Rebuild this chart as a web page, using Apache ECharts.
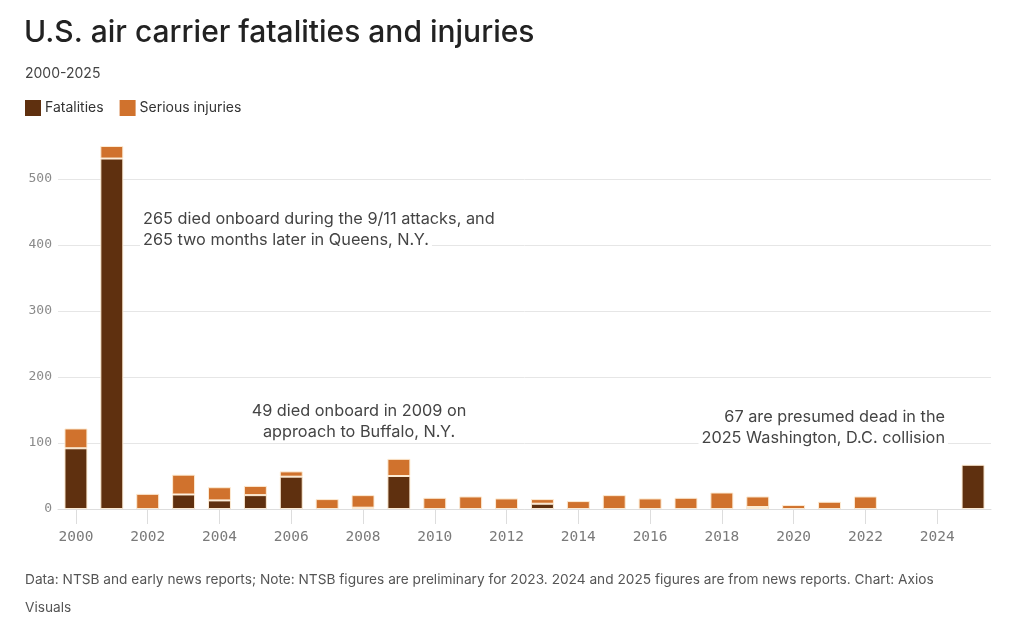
<!DOCTYPE html>
<html><head><meta charset="utf-8">
<script src="https://cdn.jsdelivr.net/npm/echarts@6/dist/echarts.min.js"></script>
<style>html,body{margin:0;padding:0;background:#fff}#c{width:1024px;height:635px}</style>
</head><body><div id="c"></div>
<script>
const years = ['2000','2001','2002','2003','2004','2005','2006','2007','2008','2009','2010','2011','2012','2013','2014','2015','2016','2017','2018','2019','2020','2021','2022','2023','2024','2025'];
const fatalities = [92, 531, 0, 22, 13, 21, 49, 0, 2, 50, 0, 0, 0, 8, 0, 0, 0, 0, 0, 3, 0, 0, 0, 0, 0, 67];
const seriousInjuries = [30, 19, 23, 30, 20, 14, 8, 15, 19, 26, 17, 19, 16, 7, 12, 21, 16, 17, 25, 16, 6, 11, 19, 0, 0, 0];
const yTicks = [0, 100, 200, 300, 400, 500];

const FONT = 'Inter, "Noto Sans", sans-serif';
const MONO = '"DejaVu Sans Mono", monospace';
const toData = arr => arr.map(v => v === 0 ? null : v);

function note(x, y, text, align) {
  return {type: 'text', z: 100, x: x, y: y,
    style: {text: text, textAlign: align, font: '16.3px ' + FONT, fill: '#444',
            backgroundColor: '#fff', padding: [2, 3]}};
}

const chart = echarts.init(document.getElementById('c'), null, {renderer: 'canvas'});
chart.setOption({
  backgroundColor: '#ffffff',
  animation: false,
  title: [
    {text: 'U.S. air carrier fatalities and injuries', left: 24, top: 18, padding: 0,
     textStyle: {fontFamily: FONT, fontSize: 30, fontWeight: 500, color: '#222'}},
    {text: '2000-2025', left: 25, top: 67, padding: 0,
     textStyle: {fontFamily: FONT, fontSize: 14, fontWeight: 'normal', color: '#444'}}
  ],
  legend: {
    left: 25, top: 100, padding: 0, icon: 'rect', itemWidth: 16, itemHeight: 16, itemGap: 16,
    itemStyle: {borderWidth: 0},
    textStyle: {fontFamily: FONT, fontSize: 14, color: '#333', padding: [0, 0, 0, -1]},
    data: ['Fatalities', 'Serious injuries']
  },
  grid: {left: 58, right: 33, top: 179, bottom: 126},
  xAxis: {
    type: 'category', data: years, boundaryGap: true,
    axisLine: {lineStyle: {color: '#dddddd'}},
    axisTick: {show: true, interval: 1, alignWithLabel: true, length: 15, lineStyle: {color: '#dddddd'}},
    axisLabel: {interval: 1, margin: 21, fontFamily: MONO, fontSize: 14.5, color: '#7a7a7a'}
  },
  yAxis: {
    type: 'value', min: yTicks[0], max: yTicks[yTicks.length - 1], interval: 100,
    axisLine: {show: false}, axisTick: {show: false},
    splitLine: {lineStyle: {color: '#e6e6e6'}},
    axisLabel: {margin: 6, fontFamily: MONO, fontSize: 13, color: '#8a8a8a'}
  },
  series: [
    {name: 'Fatalities', type: 'bar', stack: 'total', clip: false, barCategoryGap: '36%',
     itemStyle: {color: '#5f300f', borderColor: '#fdebd3', borderWidth: 1},
     data: toData(fatalities)},
    {name: 'Serious injuries', type: 'bar', stack: 'total', clip: false, barCategoryGap: '36%',
     itemStyle: {color: '#d0722d', borderColor: '#fdebd3', borderWidth: 1},
     data: toData(seriousInjuries)}
  ],
  graphic: [
    note(140, 209, '265 died onboard during the 9/11 attacks, and', 'left'),
    note(140, 230, '265 two months later in Queens, N.Y.', 'left'),
    note(359, 401, '49 died onboard in 2009 on', 'center'),
    note(359, 422, 'approach to Buffalo, N.Y.', 'center'),
    note(948, 407, '67 are presumed dead in the', 'right'),
    note(948, 428, '2025 Washington, D.C. collision', 'right'),
    {type: 'text', left: 25, top: 566,
     style: {text: 'Data: NTSB and early news reports; Note: NTSB figures are preliminary for 2023. 2024 and 2025 figures are from news reports. Chart: Axios\nVisuals',
             font: '13.7px ' + FONT, fill: '#555', lineHeight: 28}}
  ]
});
</script></body></html>
